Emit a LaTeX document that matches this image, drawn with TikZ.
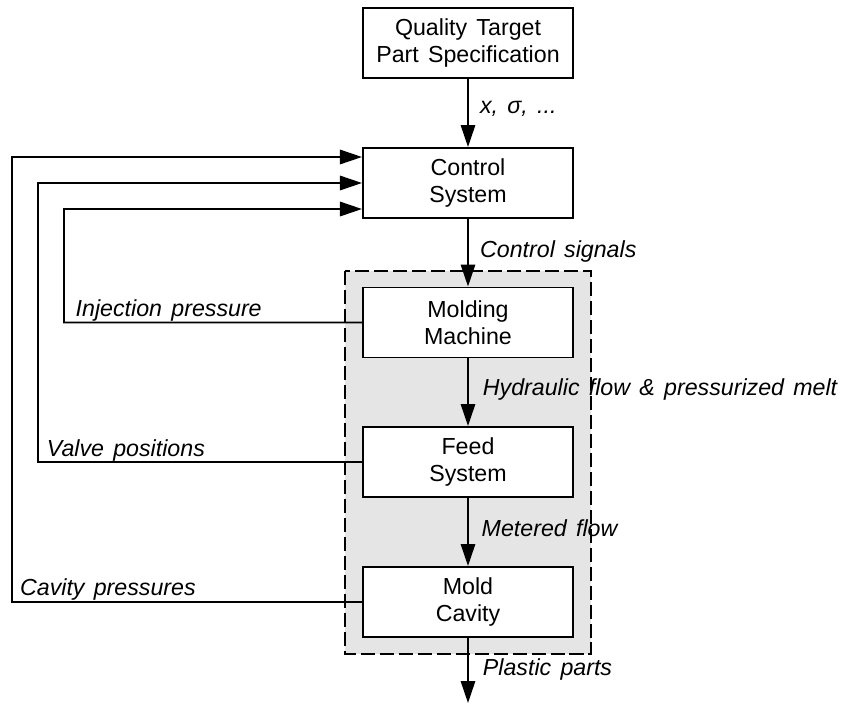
\documentclass[tikz,border=0pt]{standalone}
\usepackage{fontspec}
\setmainfont{Liberation Sans}
\usetikzlibrary{arrows.meta}
\tikzset{>={Triangle[length=5.5mm,width=3.6mm]}}
\newcommand{\bodyfont}{\fontsize{16.5}{19.5}\selectfont\spaceskip=0.4em\relax}
\tikzset{
  block/.style={draw,line width=1.4pt,fill=white,minimum width=5.25cm,
    minimum height=1.75cm,align=center,inner sep=0pt,font=\bodyfont},
  flow/.style={->,line width=1.3pt},
  sig/.style={font=\bodyfont\itshape,anchor=base west,inner sep=0pt},
}

\begin{document}
\begin{tikzpicture}[x=0.025cm,y=-0.025cm]
  \useasboundingbox (0,0) rectangle (842,704);

  %% process area
  \draw[dash pattern=on 10pt off 3.5pt,fill=black!10,line width=0.9pt]
  (345,271) rectangle (591,654);

  %% blocks
  \node[block] (spec) at (468,43) {Quality Target\\Part Specification};
  \node[block] (ctrl) at (468,183) {Control\\System};
  \node[block] (mach) at (468,322.5) {Molding\\Machine};
  \node[block] (feed) at (468,462) {Feed\\System};
  \node[block] (cav) at (468,602) {Mold\\Cavity};
  \coordinate (out) at (468,703);

  %% forward path
  \draw[flow] (spec) -- (ctrl)
  node[sig,pos=0.5,xshift=0.28cm] {x, σ, ...};
  \draw[flow] (ctrl) -- (mach)
  node[sig,pos=0.5,xshift=0.28cm,yshift=-0.12cm] {Control signals};
  \draw[flow] (mach) -- (feed)
  node[sig,pos=0.5,xshift=0.35cm,yshift=-0.08cm] {Hydraulic flow \& pressurized melt};
  \draw[flow] (feed) -- (cav)
  node[sig,pos=0.5,xshift=0.32cm,yshift=-0.12cm] {Metered flow};
  \draw[flow] (cav) -- (out)
  node[sig,pos=0.5,xshift=0.35cm,yshift=-0.12cm] {Plastic parts};

  %% feedback
  \draw[flow] (mach.west) -| (64,209)
  node[sig,pos=0.5,xshift=0.27cm,yshift=0.14cm] {Injection pressure}
  -- ([yshift=-0.65cm]ctrl.west);
  \draw[flow] (feed.west) -| (38,183)
  node[sig,pos=0.5,xshift=0.2cm,yshift=0.15cm] {Valve positions}
  -- (ctrl.west);
  \draw[flow] (cav.west) -| (12,157)
  node[sig,pos=0.5,xshift=0.18cm,yshift=0.17cm] {Cavity pressures}
  -- ([yshift=0.65cm]ctrl.west);
\end{tikzpicture}
\end{document}
